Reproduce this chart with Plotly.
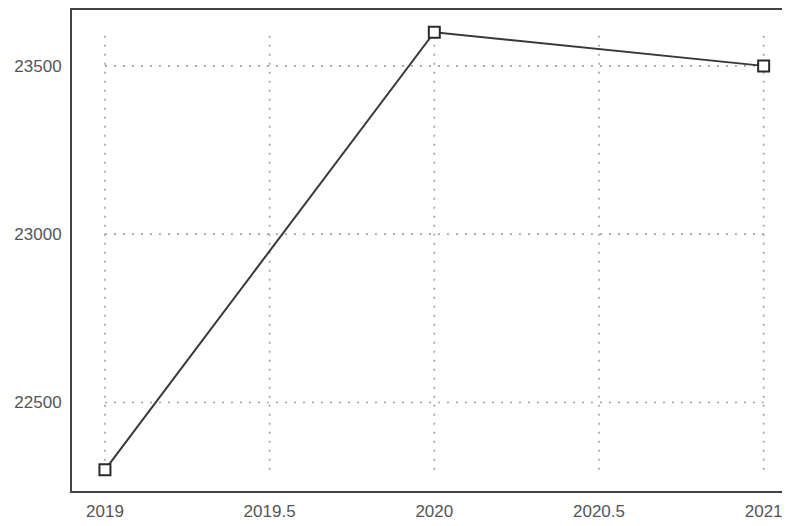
import plotly.graph_objects as go

years = [2019, 2020, 2021]
values = [22300, 23600, 23500]
x_ticks = [2019, 2019.5, 2020, 2020.5, 2021]
x_tick_labels = ["2019", "2019.5", "2020", "2020.5", "2021"]
y_ticks = [22500, 23000, 23500]
y_tick_labels = ["22500", "23000", "23500"]

grid_style = dict(color="#a0a0a0", width=1.6, dash="2px,7px")

fig = go.Figure()

# dotted grid limited to the data range
for xv in x_ticks:
    fig.add_trace(go.Scatter(x=[xv, xv], y=[min(values), max(values)], mode="lines",
                             line=grid_style, hoverinfo="skip", showlegend=False))
for yv in y_ticks:
    fig.add_trace(go.Scatter(x=[min(years), max(years)], y=[yv, yv], mode="lines",
                             line=grid_style, hoverinfo="skip", showlegend=False))

fig.add_trace(go.Scatter(
    x=years, y=values, mode="lines+markers",
    line=dict(color="#383838", width=2),
    marker=dict(symbol="square", size=11, color="white",
                line=dict(color="#2a2a2a", width=2)),
    showlegend=False,
))

# page body adds an 8px offset, so the figure is 8px smaller and margins shifted
fig.update_layout(
    width=782, height=518,
    margin=dict(l=64, r=0, t=0, b=35),
    paper_bgcolor="white", plot_bgcolor="white",
    font=dict(family="Liberation Sans, Arial, sans-serif", size=17, color="#555555"),
    xaxis=dict(
        range=[2018.9, 2021.08],
        tickvals=x_ticks, ticktext=x_tick_labels,
        showgrid=False, zeroline=False,
        showline=True, linecolor="#444444", linewidth=2, mirror=True,
        ticks="outside", ticklen=4, tickcolor="rgba(0,0,0,0)",
    ),
    yaxis=dict(
        range=[22237, 23666],
        tickvals=y_ticks, ticktext=y_tick_labels,
        showgrid=False, zeroline=False,
        showline=True, linecolor="#444444", linewidth=2,
        ticks="outside", ticklen=5, tickcolor="rgba(0,0,0,0)",
    ),
)

fig.write_html("out.html")
